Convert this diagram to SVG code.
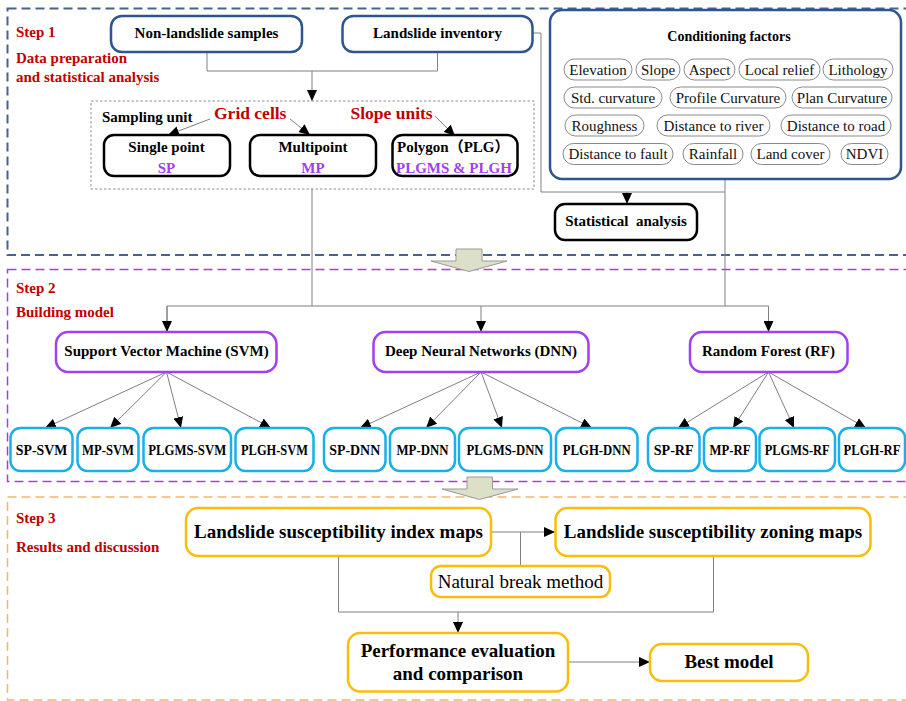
<svg xmlns="http://www.w3.org/2000/svg" width="906" height="701" viewBox="0 0 906 701">
<defs>
<marker id="ah" markerUnits="userSpaceOnUse" markerWidth="11" markerHeight="10" refX="11" refY="5" orient="auto">
<path d="M0,0 L11,5 L0,10 Z" fill="#000"/>
</marker>
<style>
text{font-family:"Liberation Serif","Times New Roman",serif;}
.b{font-weight:bold;}
.red{fill:#c00000;font-weight:bold;}
.pur{fill:#a040f0;font-weight:bold;}
.c{text-anchor:middle;}
.frame1{fill:none;stroke:#46648f;stroke-width:2;stroke-dasharray:9,5;}
.frame2{fill:none;stroke:#a040ea;stroke-width:1.5;stroke-dasharray:9,5;}
.frame3{fill:none;stroke:#f2b868;stroke-width:1.5;stroke-dasharray:9,5;}
.blue{fill:#fff;stroke:#2e5590;stroke-width:2.5;}
.blk{fill:#fff;stroke:#000;stroke-width:2.5;}
.purb{fill:#fff;stroke:#a040f0;stroke-width:2.5;}
.cyan{fill:#fff;stroke:#18b0ea;stroke-width:2.5;}
.org{fill:#fff;stroke:#fbbd08;stroke-width:2.5;}
.pill{fill:#fff;stroke:#8a8a8a;stroke-width:1;}
.pt{font-size:15px;text-anchor:middle;fill:#111;}
.ct{font-size:14px;font-weight:bold;text-anchor:middle;fill:#000;}
.ln{fill:none;stroke:#808080;stroke-width:1;}
.la{fill:none;stroke:#808080;stroke-width:1;marker-end:url(#ah);}
.big{fill:#dde0c8;stroke:#9a9a9a;stroke-width:1;}
</style>
</defs>

<g id="frames">
<rect class="frame1" x="7.5" y="8.5" width="910" height="246.5"/>
<rect class="frame2" x="7.5" y="269.5" width="910" height="212"/>
<rect class="frame3" x="7.5" y="497" width="910" height="203"/>
</g>

<g id="labels">
<text class="red" x="16" y="37" font-size="15">Step 1</text>
<text class="red" x="16" y="63" font-size="15">Data preparation</text>
<text class="red" x="16" y="82" font-size="15">and statistical analysis</text>
<text class="red" x="16" y="293" font-size="15">Step 2</text>
<text class="red" x="16" y="317" font-size="15">Building model</text>
<text class="red" x="16" y="523" font-size="15">Step 3</text>
<text class="red" x="16" y="552" font-size="15">Results and discussion</text>
</g>

<g id="connectors">
<polyline class="ln" points="207,52 207,71 437.5,71 437.5,52"/>
<line class="la" x1="312" y1="71" x2="312" y2="101"/>
<polyline class="ln" points="532,33 541,33 541,192 725,192"/>
<line class="la" x1="627" y1="192" x2="627" y2="204"/>
<line class="ln" x1="725" y1="179" x2="725" y2="306"/>
<line class="ln" x1="312" y1="189" x2="312" y2="306"/>
<polyline class="ln" points="167,332 167,306 768.5,306 768.5,332"/>
<line class="la" x1="167" y1="306" x2="167" y2="332"/>
<line class="la" x1="481" y1="306" x2="481" y2="332"/>
<line class="la" x1="768.5" y1="306" x2="768.5" y2="332"/>
<line class="la" x1="210" y1="119" x2="168" y2="135"/>
<line class="la" x1="290" y1="119" x2="310" y2="135"/>
<line class="la" x1="435" y1="116" x2="455" y2="136"/>
<line class="la" x1="166.5" y1="372" x2="45" y2="428"/>
<line class="la" x1="166.5" y1="372" x2="110" y2="428"/>
<line class="la" x1="166.5" y1="372" x2="181" y2="428"/>
<line class="la" x1="166.5" y1="372" x2="271" y2="428"/>
<line class="la" x1="481" y1="372" x2="360" y2="428"/>
<line class="la" x1="481" y1="372" x2="426" y2="428"/>
<line class="la" x1="481" y1="372" x2="502" y2="428"/>
<line class="la" x1="481" y1="372" x2="592" y2="428"/>
<line class="la" x1="768.5" y1="372" x2="678" y2="428"/>
<line class="la" x1="768.5" y1="372" x2="733" y2="428"/>
<line class="la" x1="768.5" y1="372" x2="794" y2="428"/>
<line class="la" x1="768.5" y1="372" x2="866" y2="428"/>
<line class="la" x1="491" y1="532" x2="555" y2="532"/>
<line class="ln" x1="520.5" y1="532" x2="520.5" y2="566"/>
<polyline class="ln" points="338.5,556 338.5,612 713.5,612 713.5,556"/>
<line class="la" x1="458" y1="612" x2="458" y2="633"/>
<line class="la" x1="568" y1="662" x2="650" y2="662"/>
</g>

<g id="bigarrows">
<path class="big" d="M456,249 L482,249 L482,261 L507,261 L469,271.5 L431,261 L456,261 Z"/>
<path class="big" d="M467,477 L492.5,477 L492.5,489 L518,489 L479.5,499.5 L442,489 L467,489 Z"/>
</g>

<g id="non-landslide">
<rect class="blue" x="111" y="16" width="191" height="36" rx="11"/>
<text class="b c" x="206.5" y="38" font-size="15">Non-landslide samples</text>
</g>
<g id="landslide-inventory">
<rect class="blue" x="342.5" y="16" width="190" height="36" rx="11"/>
<text class="b c" x="437.5" y="38" font-size="15">Landslide inventory</text>
</g>

<g id="sampling-unit">
<rect x="91" y="101" width="443" height="88" fill="none" stroke="#909090" stroke-width="1" stroke-dasharray="2.5,2"/>
<text class="b" x="102" y="122" font-size="15">Sampling unit</text>
<text class="red" x="214" y="119" font-size="17.5">Grid cells</text>
<text class="red" x="350.5" y="119" font-size="17.5">Slope units</text>
</g>
<g id="single-point">
<rect class="blk" x="104" y="135" width="126" height="41" rx="10"/>
<text class="b c" x="166.5" y="152" font-size="15">Single point</text>
<text class="pur c" x="166.5" y="173" font-size="15">SP</text>
</g>
<g id="multipoint">
<rect class="blk" x="250" y="135" width="126" height="41" rx="10"/>
<text class="b c" x="313" y="152" font-size="15">Multipoint</text>
<text class="pur c" x="313" y="173" font-size="15">MP</text>
</g>
<g id="polygon">
<rect class="blk" x="392.5" y="135" width="125" height="41" rx="10"/>
<text class="b" x="397" y="152" font-size="15" style="font-family:'Liberation Serif','Noto Sans CJK SC',serif">Polygon（PLG）</text>
<text class="pur" x="396" y="173" font-size="15">PLGMS &amp; PLGH</text>
</g>

<g id="conditioning-factors">
<rect class="blue" x="550" y="10" width="351" height="169" rx="12"/>
<text class="ct" x="729" y="41">Conditioning factors</text>
<rect class="pill" x="564" y="59" width="68" height="21" rx="10.5"/><text class="pt" x="598" y="74.5">Elevation</text>
<rect class="pill" x="636" y="59" width="44" height="21" rx="10.5"/><text class="pt" x="658" y="74.5">Slope</text>
<rect class="pill" x="684" y="59" width="51" height="21" rx="10.5"/><text class="pt" x="709.5" y="74.5">Aspect</text>
<rect class="pill" x="739" y="59" width="81" height="21" rx="10.5"/><text class="pt" x="779.5" y="74.5">Local relief</text>
<rect class="pill" x="823" y="59" width="70" height="21" rx="10.5"/><text class="pt" x="858" y="74.5">Lithology</text>
<rect class="pill" x="564" y="87" width="98" height="21" rx="10.5"/><text class="pt" x="613" y="102.5">Std. curvature</text>
<rect class="pill" x="670" y="87" width="116" height="21" rx="10.5"/><text class="pt" x="728" y="102.5">Profile Curvature</text>
<rect class="pill" x="792" y="87" width="100" height="21" rx="10.5"/><text class="pt" x="842" y="102.5">Plan Curvature</text>
<rect class="pill" x="565" y="115" width="79" height="21" rx="10.5"/><text class="pt" x="604.5" y="130.5">Roughness</text>
<rect class="pill" x="657" y="115" width="113" height="21" rx="10.5"/><text class="pt" x="713.5" y="130.5">Distance to river</text>
<rect class="pill" x="781" y="115" width="110" height="21" rx="10.5"/><text class="pt" x="836" y="130.5">Distance to road</text>
<rect class="pill" x="563" y="143.5" width="110" height="21" rx="10.5"/><text class="pt" x="618" y="159">Distance to fault</text>
<rect class="pill" x="683" y="143.5" width="60" height="21" rx="10.5"/><text class="pt" x="713" y="159">Rainfall</text>
<rect class="pill" x="751" y="143.5" width="79" height="21" rx="10.5"/><text class="pt" x="790.5" y="159">Land cover</text>
<rect class="pill" x="841" y="143.5" width="47" height="21" rx="10.5"/><text class="pt" x="864.5" y="159">NDVI</text>
</g>

<g id="statistical-analysis">
<rect class="blk" x="555" y="204" width="142" height="36" rx="10"/>
<text class="b c" x="626" y="226" font-size="15">Statistical&#160; analysis</text>
</g>

<g id="svm">
<rect class="purb" x="56" y="332" width="220.5" height="40" rx="12"/>
<text class="b c" x="166.5" y="356" font-size="15">Support Vector Machine (SVM)</text>
</g>
<g id="dnn">
<rect class="purb" x="373.5" y="332" width="215" height="40" rx="12"/>
<text class="b c" x="481" y="356" font-size="15">Deep Neural Networks (DNN)</text>
</g>
<g id="rf">
<rect class="purb" x="690" y="332" width="157.5" height="40" rx="12"/>
<text class="b c" x="768.5" y="356" font-size="15">Random Forest (RF)</text>
</g>

<g id="sp-svm"><rect class="cyan" x="10.5" y="428" width="62" height="43" rx="10"/><text class="b c" x="41.5" y="454.5" font-size="14" textLength="51.5" lengthAdjust="spacingAndGlyphs">SP-SVM</text></g>
<g id="mp-svm"><rect class="cyan" x="77.5" y="428" width="61" height="43" rx="10"/><text class="b c" x="108" y="454.5" font-size="14" textLength="52" lengthAdjust="spacingAndGlyphs">MP-SVM</text></g>
<g id="plgms-svm"><rect class="cyan" x="143.5" y="428" width="87.5" height="43" rx="10"/><text class="b c" x="187.2" y="454.5" font-size="14" textLength="78" lengthAdjust="spacingAndGlyphs">PLGMS-SVM</text></g>
<g id="plgh-svm"><rect class="cyan" x="235.5" y="428" width="78" height="43" rx="10"/><text class="b c" x="274.5" y="454.5" font-size="14" textLength="67" lengthAdjust="spacingAndGlyphs">PLGH-SVM</text></g>
<g id="sp-dnn"><rect class="cyan" x="324" y="428" width="61.5" height="43" rx="10"/><text class="b c" x="354.7" y="454.5" font-size="14" textLength="51" lengthAdjust="spacingAndGlyphs">SP-DNN</text></g>
<g id="mp-dnn"><rect class="cyan" x="390" y="428" width="65" height="43" rx="10"/><text class="b c" x="422.5" y="454.5" font-size="14" textLength="52" lengthAdjust="spacingAndGlyphs">MP-DNN</text></g>
<g id="plgms-dnn"><rect class="cyan" x="459" y="428" width="92" height="43" rx="10"/><text class="b c" x="505" y="454.5" font-size="14" textLength="77" lengthAdjust="spacingAndGlyphs">PLGMS-DNN</text></g>
<g id="plgh-dnn"><rect class="cyan" x="556" y="428" width="81.5" height="43" rx="10"/><text class="b c" x="596.7" y="454.5" font-size="14" textLength="68" lengthAdjust="spacingAndGlyphs">PLGH-DNN</text></g>
<g id="sp-rf"><rect class="cyan" x="648" y="428" width="51.5" height="43" rx="10"/><text class="b c" x="673.7" y="454.5" font-size="14" textLength="40" lengthAdjust="spacingAndGlyphs">SP-RF</text></g>
<g id="mp-rf"><rect class="cyan" x="704" y="428" width="52" height="43" rx="10"/><text class="b c" x="730" y="454.5" font-size="14" textLength="41" lengthAdjust="spacingAndGlyphs">MP-RF</text></g>
<g id="plgms-rf"><rect class="cyan" x="759.5" y="428" width="75.5" height="43" rx="10"/><text class="b c" x="797.2" y="454.5" font-size="14" textLength="65" lengthAdjust="spacingAndGlyphs">PLGMS-RF</text></g>
<g id="plgh-rf"><rect class="cyan" x="839" y="428" width="66" height="43" rx="10"/><text class="b c" x="872" y="454.5" font-size="14" textLength="57" lengthAdjust="spacingAndGlyphs">PLGH-RF</text></g>

<g id="index-maps">
<rect class="org" x="186" y="508" width="305" height="48" rx="12"/>
<text class="b c" x="338.5" y="538" font-size="19">Landslide susceptibility index maps</text>
</g>
<g id="zoning-maps">
<rect class="org" x="555.5" y="508" width="315" height="48" rx="12"/>
<text class="b c" x="713" y="538" font-size="19">Landslide susceptibility zoning maps</text>
</g>
<g id="natural-break">
<rect class="org" x="431" y="566" width="179" height="31" rx="10"/>
<text class="c" x="520.5" y="588" font-size="19">Natural break method</text>
</g>
<g id="performance">
<rect class="org" x="348" y="633" width="220" height="58.5" rx="12"/>
<text class="b c" x="458" y="657" font-size="19">Performance evaluation</text>
<text class="b c" x="458" y="680" font-size="19">and comparison</text>
</g>
<g id="best-model">
<rect class="org" x="650" y="644" width="158" height="37" rx="12"/>
<text class="b c" x="729" y="668" font-size="19">Best model</text>
</g>
</svg>
